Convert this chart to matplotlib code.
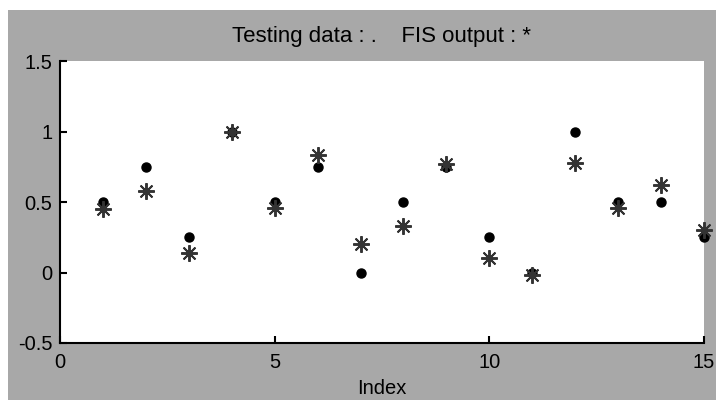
import matplotlib.pyplot as plt
from matplotlib.patches import Rectangle

# index of test samples
index = list(range(1, 16))
# testing data (dots)
testing_data = [0.5, 0.75, 0.25, 1.0, 0.5, 0.75, 0.0, 0.5, 0.75, 0.25, 0.0, 1.0, 0.5, 0.5, 0.25]
# FIS output (stars)
fis_output = [0.45, 0.58, 0.135, 1.0, 0.46, 0.83, 0.205, 0.33, 0.77, 0.105, -0.015, 0.78, 0.455, 0.62, 0.30]

x_ticks = [0, 5, 10, 15]
y_ticks = [-0.5, 0, 0.5, 1, 1.5]
y_tick_labels = ["-0.5", "0", "0.5", "1", "1.5"]

GRAY = "#a8a8a8"

plt.rcParams["font.family"] = ["Liberation Sans", "DejaVu Sans"]

fig = plt.figure(figsize=(7.16, 4.0), dpi=100, facecolor="white")
# MATLAB-like gray figure panel (small white margin top/left)
fig.add_artist(Rectangle((8 / 716, 0), 1 - 8 / 716, 390 / 400,
                         transform=fig.transFigure, facecolor=GRAY,
                         edgecolor="none", zorder=-10))

ax = fig.add_axes([60 / 716, 57 / 400, 644 / 716, 282 / 400])
ax.set_facecolor("white")

ax.plot(index, testing_data, linestyle="none", marker="o", markersize=6.5,
        color="black", clip_on=False)
ax.plot(index, fis_output, linestyle="none", marker=(8, 2, 0), markersize=12,
        markeredgewidth=1.4, color="#333333", clip_on=False)

ax.set_xlim(0, 15)
ax.set_ylim(-0.5, 1.5)
ax.set_xticks(x_ticks)
ax.set_yticks(y_ticks)
ax.set_yticklabels(y_tick_labels)

for side in ["top", "right"]:
    ax.spines[side].set_visible(False)
for side in ["left", "bottom"]:
    ax.spines[side].set_linewidth(1.5)
    ax.spines[side].set_color("black")

ax.tick_params(direction="in", length=5, width=1.5, labelsize=14.5, colors="black")
ax.tick_params(axis="x", pad=7)
ax.tick_params(axis="y", pad=5.5)

ax.set_title("Testing data : .    FIS output : *", fontsize=16, pad=14)
ax.set_xlabel("Index", fontsize=14.5, labelpad=5)

fig.savefig("out.png", dpi=100, facecolor=fig.get_facecolor())
